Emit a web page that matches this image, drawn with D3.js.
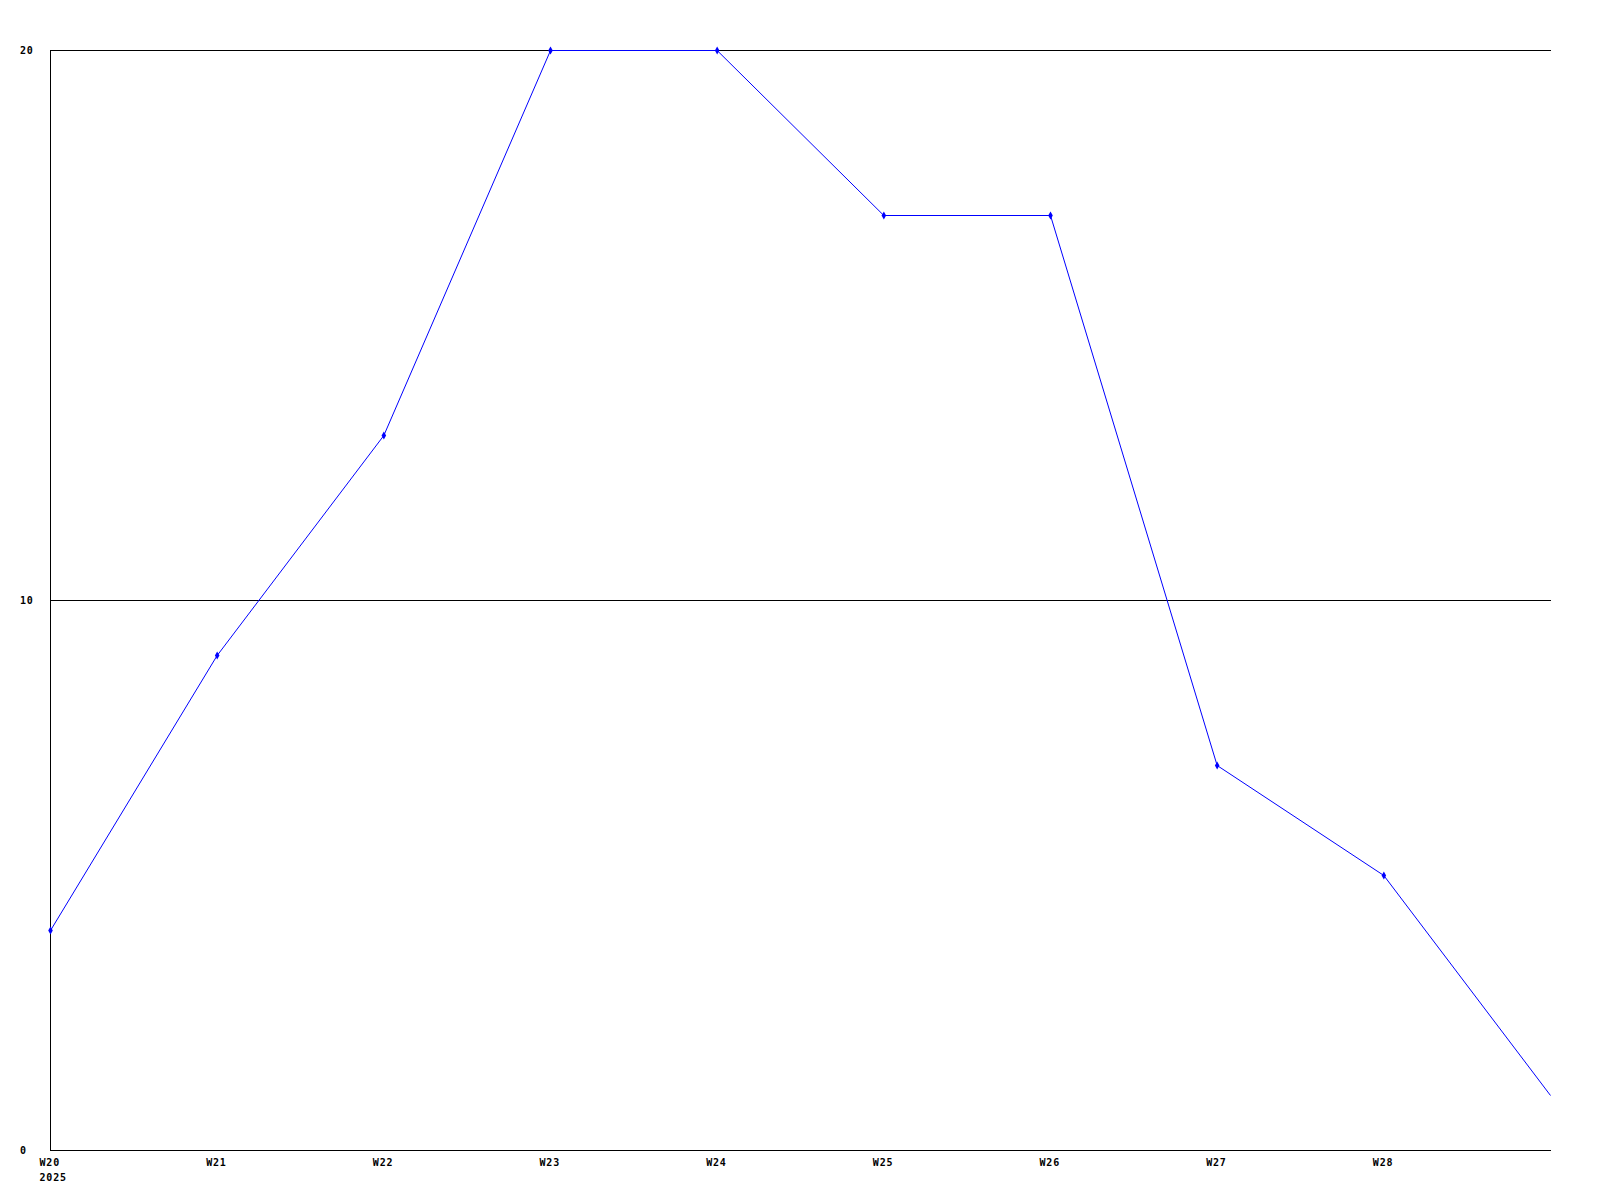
<!DOCTYPE html>
<html>
<head>
<meta charset="utf-8">
<script src="https://cdn.jsdelivr.net/npm/d3@7"></script>
<style>
    body { margin: 0; background: #fff; }
    text { font-family: "DejaVu Sans Mono", monospace; font-weight: bold; font-size: 10px; letter-spacing: 0.8px; fill: #000; }
</style>
</head>
<body>
<svg id="chart"></svg>
<script>
const width = 1600, height = 1200;

// weeks and values
const weeks = ["W20", "W21", "W22", "W23", "W24", "W25", "W26", "W27", "W28", "W29"];
const values = [4, 9, 13, 20, 20, 17, 17, 7, 5, 1];
const tickLabels = ["W20", "W21", "W22", "W23", "W24", "W25", "W26", "W27", "W28"];
const yTicks = [0, 10, 20];
const yearLabel = "2025";

const svg = d3.select("#chart")
    .attr("width", width)
    .attr("height", height);

const x = d3.scaleLinear()
    .domain([0, weeks.length - 1])
    .range([50.5, 1550.5]);

const y = d3.scaleLinear()
    .domain([0, 20])
    .range([1150.5, 50.5]);

// gridlines
svg.selectAll(".grid")
    .data(yTicks.filter(d => d > 0))
    .enter().append("line")
    .attr("class", "grid")
    .attr("x1", 50).attr("x2", 1551)
    .attr("y1", d => y(d)).attr("y2", d => y(d))
    .attr("stroke", "#000")
    .attr("stroke-width", 1);

// axes lines
svg.append("line")
    .attr("x1", x(0)).attr("x2", x(0))
    .attr("y1", y(20) - 0.5).attr("y2", y(0) + 0.5)
    .attr("stroke", "#000");
svg.append("line")
    .attr("x1", 50).attr("x2", 1551)
    .attr("y1", y(0)).attr("y2", y(0))
    .attr("stroke", "#000");

// y labels
svg.selectAll(".ylab")
    .data(yTicks)
    .enter().append("text")
    .attr("class", "ylab")
    .attr("x", 20)
    .attr("y", d => y(d))
    .attr("dy", "0.35em")
    .text(d => d);

// x labels
svg.selectAll(".xlab")
    .data(tickLabels)
    .enter().append("text")
    .attr("class", "xlab")
    .attr("x", (d, i) => x(i) - 11)
    .attr("y", 1166)
    .text(d => d);

svg.append("text")
    .attr("x", x(0) - 11)
    .attr("y", 1181)
    .text(yearLabel);

// series
const line = d3.line()
    .x((d, i) => x(i))
    .y(d => y(d));

svg.append("path")
    .datum(values)
    .attr("d", line)
    .attr("fill", "none")
    .attr("stroke", "#0000ff")
    .attr("stroke-width", 1);

svg.selectAll(".pt")
    .data(values.slice(0, tickLabels.length))
    .enter().append("path")
    .attr("class", "pt")
    .attr("d", d3.symbol().type(d3.symbolDiamond).size(18))
    .attr("transform", (d, i) => `translate(${x(i)}, ${y(d)})`)
    .attr("fill", "#0000ff");
</script>
</body>
</html>
